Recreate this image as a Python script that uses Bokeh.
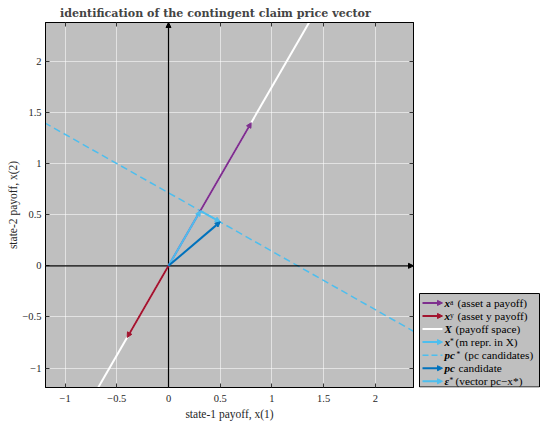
from bokeh.plotting import figure
from bokeh.models import (Range1d, FixedTicker, LinearAxis, Arrow, NormalHead,
                          CustomJSTickFormatter, ColumnDataSource, Plot, Quad,
                          Line, Text)
from bokeh.layouts import row
from bokeh.embed import file_html
from bokeh.resources import INLINE
from bokeh.core.properties import value

# ---- vectors in the two-state payoff plane ----
x_a = [0.8, 1.4]          # asset a payoff
x_y = [-0.4, -0.7]        # asset y payoff
x_star = [0.308, 0.538]   # m represented in X
pc = [0.5, 0.43]          # price-vector candidate

# payoff space X (line through the origin along x_a)
space_x = [-1.2, 2.4]
space_y = [-2.1, 4.2]
# set of pc candidates (orthogonal to X through x_star)
pcs_x = [-1.2, 2.4]
pcs_y = [1.40, -0.657]

ticks = [-1, -0.5, 0, 0.5, 1, 1.5, 2]
x_lim = (-1.19, 2.37)
y_lim = (-1.19, 2.38)

PURPLE = "#7E2F8E"
RED = "#A2142F"
BLUE = "#0072BD"
LIGHT = "#4DBEEE"
SERIF = "Liberation Serif"

BORDER_TOP, BORDER_BOTTOM = 22, 31

p = figure(width=418, height=422, output_backend="svg", toolbar_location=None,
           x_range=Range1d(*x_lim), y_range=Range1d(*y_lim),
           min_border_left=45, min_border_right=5,
           min_border_top=BORDER_TOP, min_border_bottom=BORDER_BOTTOM,
           background_fill_color="#bfbfbf", border_fill_color="white",
           outline_line_color="black", outline_line_width=1)

p.title.text = "identification of the contingent claim price vector"
p.title.align = "left"
p.title.text_font = "DejaVu Serif"
p.title.text_font_size = "11.1px"
p.title.text_font_style = "bold"
p.title.offset = 14.5
p.title.standoff = 5

for ax in (p.xaxis[0], p.yaxis[0]):
    ax.ticker = FixedTicker(ticks=ticks)
    ax.major_tick_in = 4
    ax.major_tick_out = 0
    ax.minor_tick_line_color = None
    ax.axis_line_color = "black"
    ax.major_tick_line_color = "#333333"
    ax.major_label_text_font = SERIF
    ax.major_label_text_font_size = "10.5px"
    ax.major_label_text_color = "#262626"
    ax.axis_label_text_font = SERIF
    ax.axis_label_text_font_size = "11.5px"
    ax.axis_label_text_font_style = "normal"
    ax.axis_label_text_color = "#262626"

p.xaxis.axis_label = "state-1 payoff, x(1)"
p.yaxis.axis_label = "state-2 payoff, x(2)"
p.xaxis.major_label_standoff = 7
p.xaxis.axis_label_standoff = 3
p.yaxis.major_label_standoff = 4
p.yaxis.axis_label_standoff = 0

# box ticks on the top and right edges
blank = CustomJSTickFormatter(code="return ''")
for side in ("above", "right"):
    ax = LinearAxis(ticker=FixedTicker(ticks=ticks), formatter=blank,
                    major_tick_in=4, major_tick_out=0, minor_tick_line_color=None,
                    major_label_standoff=0, axis_line_color="black",
                    major_tick_line_color="#333333", major_label_text_font_size="1px")
    p.add_layout(ax, side)

p.grid.ticker = FixedTicker(ticks=ticks)
p.grid.grid_line_color = "white"
p.grid.grid_line_alpha = 0.55
p.grid.grid_line_width = 1

# coordinate axes through the origin
p.add_layout(Arrow(x_start=0, y_start=y_lim[0], x_end=0, y_end=y_lim[1],
                   line_color="black", line_width=1.2,
                   end=NormalHead(size=5, fill_color="black", line_color="black")))
p.add_layout(Arrow(x_start=x_lim[0], y_start=0, x_end=x_lim[1], y_end=0,
                   line_color="black", line_width=1.2,
                   end=NormalHead(size=5, fill_color="black", line_color="black")))

# payoff space and pc candidates
p.line(space_x, space_y, line_color="white", line_width=2)
p.line(pcs_x, pcs_y, line_color=LIGHT, line_width=1.5, line_dash="7 4")


def vec(x0, y0, x1, y1, color):
    p.add_layout(Arrow(x_start=x0, y_start=y0, x_end=x1, y_end=y1,
                       line_color=color, line_width=2,
                       end=NormalHead(size=5, fill_color=color, line_color=color)))


vec(0, 0, x_a[0], x_a[1], PURPLE)
vec(0, 0, x_y[0], x_y[1], RED)
vec(0, 0, x_star[0], x_star[1], LIGHT)
vec(x_star[0], x_star[1], pc[0], pc[1], LIGHT)
vec(0, 0, pc[0], pc[1], BLUE)

# ---- legend panel ----
leg_sym = ["x", "x", "X", "x", "pc", "pc", "\u03b5"]
leg_sup = ["a", "y", "", "*", "*", "", "*"]
leg_desc = ["(asset a payoff)", "(asset y payoff)", "(payoff space)",
            "(m repr. in X)", "(pc candidates)", "candidate", "(vector pc\u2212x*)"]
leg_color = [PURPLE, RED, "white", LIGHT, LIGHT, BLUE, LIGHT]
leg_kind = ["arrow", "arrow", "line", "arrow", "dash", "arrow", "arrow"]

# layout of the legend panel (page pixels, y downwards)
row_y = [305.5 + 13.2 * i for i in range(len(leg_sym))]
sup_x = [31.5, 31.5, 0, 31.5, 38, 0, 31]
desc_x = [39, 39, 37, 37, 46, 40, 37]

# the legend frame lines up with the main frame, so its y range is in page pixels
lg = Plot(width=122, height=422, output_backend="svg",
          toolbar_location=None, title=None,
          x_range=Range1d(0, 122), y_range=Range1d(422 - BORDER_BOTTOM, BORDER_TOP),
          min_border_left=0, min_border_right=0,
          min_border_top=BORDER_TOP, min_border_bottom=BORDER_BOTTOM,
          outline_line_color=None, border_fill_color="white",
          background_fill_color="white")

box = ColumnDataSource(dict(l=[1], r=[121], t=[296], b=[390.5]))
lg.add_glyph(box, Quad(left="l", right="r", top="t", bottom="b",
                       fill_color="#bfbfbf", line_color="black", line_width=1))

for i, y in enumerate(row_y):
    c = leg_color[i]
    if leg_kind[i] == "arrow":
        lg.add_layout(Arrow(x_start=4, y_start=y, x_end=24, y_end=y, line_color=c,
                            line_width=2,
                            end=NormalHead(size=5, fill_color=c, line_color=c)))
    else:
        seg = ColumnDataSource(dict(x=[4, 24], y=[y, y]))
        dash = "6 3" if leg_kind[i] == "dash" else "solid"
        lg.add_glyph(seg, Line(x="x", y="y", line_color=c,
                               line_width=1.5 if leg_kind[i] == "dash" else 2,
                               line_dash=dash))

src = ColumnDataSource(dict(x=[26] * len(row_y), y=row_y, sym=leg_sym))
lg.add_glyph(src, Text(x="x", y="y", text="sym", text_font=value(SERIF),
                       text_font_size="11px", text_font_style="bold italic",
                       text_baseline="middle", text_color="black"))

sup_src = ColumnDataSource(dict(
    x=[sx for sx, s in zip(sup_x, leg_sup) if s],
    y=[y - 0.5 for y, s in zip(row_y, leg_sup) if s],
    t=[s for s in leg_sup if s]))
lg.add_glyph(sup_src, Text(x="x", y="y", text="t", text_font=value(SERIF),
                           text_font_size="7.5px", text_baseline="alphabetic",
                           text_color="black"))

desc_src = ColumnDataSource(dict(x=desc_x, y=row_y, t=leg_desc))
lg.add_glyph(desc_src, Text(x="x", y="y", text="t", text_font=value(SERIF),
                            text_font_size="11.3px", text_baseline="middle",
                            text_color="black"))

layout = row(p, lg, spacing=0)
open("out.html", "w").write(file_html(layout, INLINE))
